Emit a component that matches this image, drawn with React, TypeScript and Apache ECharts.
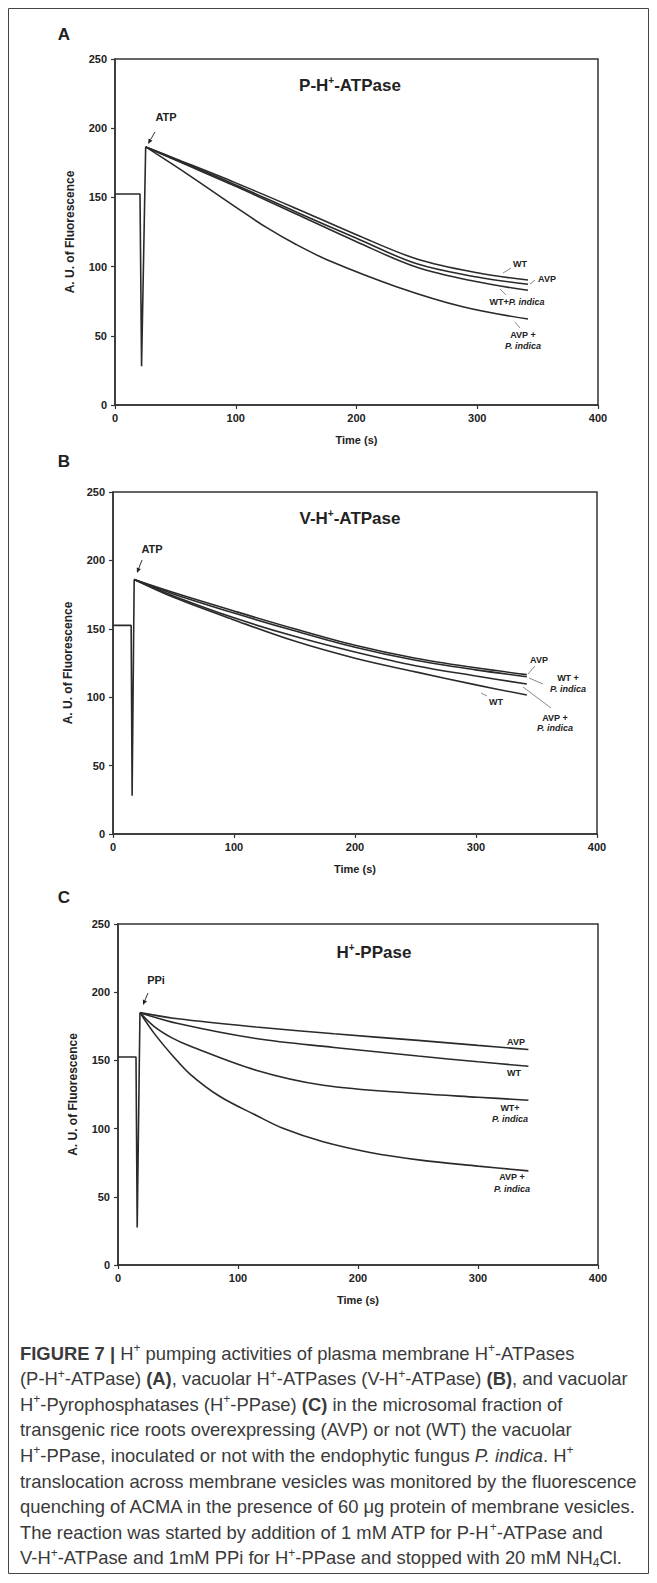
import React, { useEffect, useRef } from "react";
import * as echarts from "echarts";

// ---------- data ----------
const xTickValues = [0, 100, 200, 300, 400];
const yTickValues = [0, 50, 100, 150, 200, 250];

// Panel A: P-H+-ATPase
const aTrace = [[0, 152.5], [20.7, 152.5], [22, 28], [25.4, 186.5]];
const aWT = [[25.4, 186.5], [50, 178], [100, 160.5], [150, 142], [200, 123], [250, 105.5], [300, 95.5], [342, 90.3]];
const aAVP = [[25.4, 186.5], [50, 177.5], [100, 159], [150, 139.5], [200, 120.5], [250, 102], [300, 92.5], [342, 87.2]];
const aWTP = [[25.4, 186.5], [50, 177], [100, 158], [150, 138], [200, 118], [250, 99.5], [300, 89], [342, 82.9]];
const aAVPP = [[25.4, 186.5], [59, 167.4], [100, 143], [125, 128.5], [150, 116], [178, 104], [233, 85.5], [288, 71], [342, 62.1]];

// Panel B: V-H+-ATPase
const bTrace = [[0, 152.5], [15, 152.5], [15.8, 28], [17.5, 186]];
const bAVP = [[17.5, 186], [50, 176.5], [100, 163], [150, 150], [200, 138], [250, 128.5], [300, 121.5], [342, 116.5]];
const bWTP = [[17.5, 186], [50, 175.5], [100, 161.5], [150, 148.5], [200, 136.5], [250, 127], [300, 120], [342, 115]];
const bAVPP = [[17.5, 186], [50, 174], [100, 158], [150, 144.5], [200, 133], [250, 123], [300, 115.5], [342, 109.6]];
const bWT = [[17.5, 186], [50, 173], [100, 156.5], [150, 141], [200, 128.5], [250, 118.5], [300, 109], [342, 101.6]];

// Panel C: H+-PPase
const cTrace = [[0, 152.5], [15, 152.5], [16, 27.5], [18.3, 185]];
const cAVP = [[18.3, 185], [50, 180.5], [115, 174.5], [180, 169.5], [250, 164.7], [300, 161], [342, 158]];
const cWT = [[18.3, 185], [50, 177], [115, 166], [180, 159.5], [250, 153.2], [300, 149], [342, 145.7]];
const cWTP = [[18.3, 185], [30, 175], [45, 166.5], [60, 160.5], [115, 142.8], [171, 131.8], [250, 125.7], [300, 123], [342, 120.8]];
const cAVPP = [[18.3, 185], [30, 170], [45, 154], [60, 140], [85, 123.5], [115, 109.8], [138, 100], [171, 90.3], [210, 82.5], [252, 76.9], [300, 72.5], [342, 69]];

const captionLines = [
  "{b|FIGURE 7 |} H{sup|+} pumping activities of plasma membrane H{sup|+}-ATPases",
  "(P-H{sup|+}-ATPase) {b|(A)}, vacuolar H{sup|+}-ATPases (V-H{sup|+}-ATPase) {b|(B)}, and vacuolar",
  "H{sup|+}-Pyrophosphatases (H{sup|+}-PPase) {b|(C)} in the microsomal fraction of",
  "transgenic rice roots overexpressing (AVP) or not (WT) the vacuolar",
  "H{sup|+}-PPase, inoculated or not with the endophytic fungus {i|P. indica}. H{sup|+}",
  "translocation across membrane vesicles was monitored by the fluorescence",
  "quenching of ACMA in the presence of 60 \u03bcg protein of membrane vesicles.",
  "The reaction was started by addition of 1 mM ATP for P-H{sup|+}-ATPase and",
  "V-H{sup|+}-ATPase and 1mM PPi for H{sup|+}-PPase and stopped with 20 mM NH{sub|4}Cl.",
];

// ---------- style ----------
const FONT = '"Liberation Sans", Arial, sans-serif';
const CAP_FONT = '"Liberation Sans", Arial, sans-serif';
const CAP_SIZE = 18.4;
const CAP_COLOR = "#3a3a3a";
const AX = "#333";
const LINE = "#2a2a2a";
const TXT = "#222";

const grids = [
  { left: 107, top: 51, width: 483, height: 346 },
  { left: 105, top: 484, width: 484, height: 342 },
  { left: 110, top: 916, width: 480, height: 341 },
];

function txt(x: number, y: number, text: string, size = 9, extra: any = {}) {
  return {
    type: "text",
    silent: true,
    style: {
      x, y, text,
      fill: TXT,
      fontFamily: FONT,
      fontWeight: "bold",
      fontSize: size,
      align: "center",
      verticalAlign: "middle",
      ...extra,
    },
  };
}

function leader(x1: number, y1: number, x2: number, y2: number) {
  return {
    type: "line",
    silent: true,
    shape: { x1, y1, x2, y2 },
    style: { stroke: "#8a8a8a", lineWidth: 1 },
  };
}

function arrow(x1: number, y1: number, x2: number, y2: number) {
  const ang = Math.atan2(y2 - y1, x2 - x1);
  const L = 5, W = 2.2;
  const bx = x2 - L * Math.cos(ang), by = y2 - L * Math.sin(ang);
  const px = -Math.sin(ang) * W, py = Math.cos(ang) * W;
  return [
    { type: "line", silent: true, shape: { x1, y1, x2: bx, y2: by }, style: { stroke: "#333", lineWidth: 1 } },
    { type: "polygon", silent: true, shape: { points: [[x2, y2], [bx + px, by + py], [bx - px, by - py]] }, style: { fill: "#222" } },
  ];
}

function titleRich(x: number, y: number, text: string) {
  return {
    type: "text",
    silent: true,
    style: {
      x, y, text,
      fill: TXT,
      fontFamily: FONT,
      fontWeight: "bold",
      fontSize: 17,
      lineHeight: 20,
      align: "center",
      verticalAlign: "middle",
      rich: {
        sup: { fontSize: 10, fontWeight: "bold", fontFamily: FONT, fill: TXT, verticalAlign: "top", lineHeight: 12 },
      },
    },
  };
}

function curve(data: number[][], gi: number, smooth: boolean) {
  return {
    type: "line",
    xAxisIndex: gi,
    yAxisIndex: gi,
    data,
    smooth: smooth ? 0.35 : false,
    symbol: "none",
    silent: true,
    lineStyle: { color: LINE, width: 1.6 },
  };
}

export default function App() {
  const ref = useRef<HTMLDivElement>(null);
  useEffect(() => {
    if (!ref.current) return;
    const chart = echarts.init(ref.current, undefined, { renderer: "svg" });

    const axisLabel = { color: TXT, fontFamily: FONT, fontWeight: "bold", fontSize: 11 };
    const xAxis = grids.map((_, i) => ({
      type: "value",
      gridIndex: i,
      min: xTickValues[0],
      max: xTickValues[xTickValues.length - 1],
      interval: 100,
      name: "Time (s)",
      nameLocation: "middle",
      nameGap: 29,
      nameTextStyle: { color: TXT, fontFamily: FONT, fontWeight: "bold", fontSize: 11 },
      axisLine: { show: true, onZero: false, lineStyle: { color: AX, width: 1.5 } },
      axisTick: { show: true, length: 4, lineStyle: { color: AX, width: 1.2 } },
      axisLabel: { ...axisLabel, margin: 7 },
      splitLine: { show: false },
    }));
    const yAxis = grids.map((_, i) => ({
      type: "value",
      gridIndex: i,
      min: yTickValues[0],
      max: yTickValues[yTickValues.length - 1],
      interval: 50,
      name: "A. U. of Fluorescence",
      nameLocation: "middle",
      nameGap: 39,
      nameRotate: 90,
      nameTextStyle: { color: TXT, fontFamily: FONT, fontWeight: "bold", fontSize: 12 },
      axisLine: { show: true, onZero: false, lineStyle: { color: AX, width: 1.5 } },
      axisTick: { show: true, length: 4, lineStyle: { color: AX, width: 1.2 } },
      axisLabel: { ...axisLabel, margin: 8 },
      splitLine: { show: false },
    }));

    const series = [
      curve(aTrace, 0, false), curve(aWT, 0, true), curve(aAVP, 0, true), curve(aWTP, 0, true), curve(aAVPP, 0, true),
      curve(bTrace, 1, false), curve(bAVP, 1, true), curve(bWTP, 1, true), curve(bAVPP, 1, true), curve(bWT, 1, true),
      curve(cTrace, 2, false), curve(cAVP, 2, true), curve(cWT, 2, true), curve(cWTP, 2, true), curve(cAVPP, 2, true),
    ];

    const capRich = {
      b: { fontWeight: "bold", fontFamily: CAP_FONT, fontSize: CAP_SIZE, fill: CAP_COLOR },
      i: { fontStyle: "italic", fontFamily: CAP_FONT, fontSize: CAP_SIZE, fill: CAP_COLOR },
      sup: { fontSize: 12, fontFamily: CAP_FONT, fill: CAP_COLOR, verticalAlign: "top", lineHeight: 13 },
      sub: { fontSize: 12, fontFamily: CAP_FONT, fill: CAP_COLOR, verticalAlign: "bottom", lineHeight: 13 },
    };
    const caption = captionLines.map((line, k) => ({
      type: "text",
      silent: true,
      style: {
        x: 12,
        y: 1345 + k * 25.6,
        text: line,
        fill: CAP_COLOR,
        fontFamily: CAP_FONT,
        fontSize: CAP_SIZE,
        lineHeight: 22,
        align: "left",
        verticalAlign: "middle",
        rich: capRich,
      },
    }));

    const graphic: any[] = [
      { type: "rect", silent: true, shape: { x: 0.5, y: 0.5, width: 640, height: 1565 }, style: { fill: "none", stroke: "#444", lineWidth: 1 } },
      // panel letters
      txt(56, 26, "A", 17), txt(56, 453, "B", 17), txt(56, 889, "C", 17),
      // titles
      titleRich(342, 77, "P-H{sup|+}-ATPase"),
      titleRich(342, 510, "V-H{sup|+}-ATPase"),
      titleRich(366, 944, "H{sup|+}-PPase"),
      // A annotations
      txt(158, 109, "ATP", 11), ...arrow(147, 124, 140, 136),
      txt(512, 256, "WT"), leader(495, 265, 503, 260),
      txt(539, 271, "AVP"), leader(522, 276, 527, 272),
      txt(509, 294, "WT+{i|P. indica}", 9, { rich: { i: { fontStyle: "italic", fontWeight: "bold", fontFamily: FONT, fontSize: 9, fill: TXT } } }),
      leader(492, 281, 498, 287),
      txt(515, 327, "AVP +"), txt(515, 338, "P. indica", 9, { fontStyle: "italic" }), leader(507, 314, 512, 320),
      // B annotations
      txt(144, 541, "ATP", 11), ...arrow(134, 552, 129, 565),
      txt(531, 652, "AVP"), leader(520, 666, 527, 658),
      txt(560, 670, "WT +"), txt(560, 681, "P. indica", 9, { fontStyle: "italic" }), leader(521, 670, 535, 676),
      txt(547, 710, "AVP +"), txt(547, 720, "P. indica", 9, { fontStyle: "italic" }), leader(515, 679, 543, 700),
      txt(488, 694, "WT"), leader(473, 685, 479, 688),
      // C annotations
      txt(148, 972, "PPi", 11), ...arrow(140, 985, 135, 997),
      txt(508, 1034, "AVP"),
      txt(506, 1065, "WT"),
      txt(502, 1100, "WT+"), txt(502, 1111, "P. indica", 9, { fontStyle: "italic" }),
      txt(504, 1169, "AVP +"), txt(504, 1181, "P. indica", 9, { fontStyle: "italic" }),
      ...caption,
    ];

    chart.setOption({
      animation: false,
      backgroundColor: "#fff",
      grid: grids.map((g) => ({ ...g, show: true, borderColor: AX, borderWidth: 1.5, backgroundColor: "transparent", containLabel: false })),
      xAxis,
      yAxis,
      series,
      graphic,
    });
    return () => chart.dispose();
  }, []);
  return <div ref={ref} style={{ width: 641, height: 1567 }} />;
}
